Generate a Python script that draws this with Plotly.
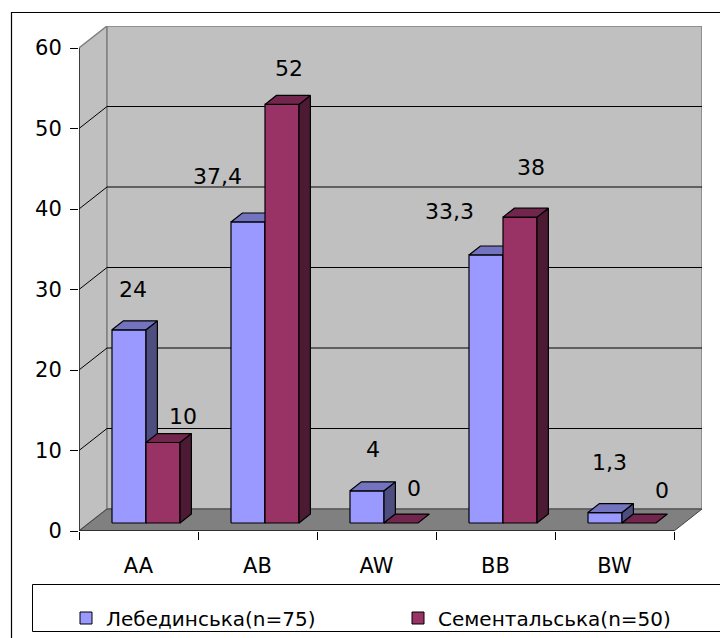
import plotly.graph_objects as go

# ---- data ----
categories = ["AA", "AB", "AW", "BB", "BW"]
lebedynska = [24, 37.4, 4, 33.3, 1.3]
sementalska = [10, 52, 0, 38, 0]
series_names = ["Лебединська(n=75)", "Сементальська(n=50)"]
y_ticks = [0, 10, 20, 30, 40, 50, 60]

# pixel nudges (dx, dy) for each value label
blue_label_shift = [(4, 40), (-31, 45), (6, 41), (-37, 43), (4, 50)]
red_label_shift = [(20, 26), (7, 36), (13, 35), (11, 50), (23, 33)]

# ---- 3D-look geometry (data units) ----
DX, DY = 0.2353, 2.733          # full depth of the floor
F0, F1 = 0.363, 0.77            # depth of bar front / back faces
W = 0.2857                      # bar width
BLUE_LEFT = -0.2227             # front-face left edge relative to category
YMAX = 60

FONT = "DejaVu Sans"
BLUE = ("#9999FF", "#7373BF", "#4D4D80")   # front, top, side
RED = ("#993366", "#73264D", "#4D1A33")


def shade_poly(xs, ys, color):
    return go.Scatter(
        x=xs + [xs[0]], y=ys + [ys[0]], mode="lines", fill="toself",
        fillcolor=color, line=dict(color="black", width=1.2),
        hoverinfo="skip", showlegend=False)


def bar_traces(xl, v, colors):
    front, top, side = colors
    b = F0 * DY
    ddx, ddy = (F1 - F0) * DX, (F1 - F0) * DY
    xr = xl + W
    out = []
    if v > 0:
        out.append(shade_poly([xl, xr, xr, xl], [b, b, b + v, b + v], front))
        out.append(shade_poly([xr, xr + ddx, xr + ddx, xr],
                              [b, b + ddy, b + v + ddy, b + v], side))
    out.append(shade_poly([xl, xr, xr + ddx, xl + ddx],
                          [b + v, b + v, b + v + ddy, b + v + ddy], top))
    return out


def fmt(v):
    return (f"{v:g}").replace(".", ",")


fig = go.Figure()
annotations = []
for i, cat in enumerate(categories):
    for k, (vals, cols, shifts) in enumerate(
            [(lebedynska, BLUE, blue_label_shift),
             (sementalska, RED, red_label_shift)]):
        v = vals[i]
        xl = i + BLUE_LEFT + k * W
        for tr in bar_traces(xl, v, cols):
            fig.add_trace(tr)
        sx, sy = shifts[i]
        annotations.append(dict(
            x=xl + W / 2, y=F0 * DY + v, xref="x", yref="y",
            text=fmt(v), showarrow=False, xshift=sx, yshift=sy,
            font=dict(family=FONT, size=22, color="black")))

# legend entries
for name, cols in zip(series_names, [BLUE, RED]):
    fig.add_trace(go.Scatter(
        x=[None], y=[None], mode="markers", name=name,
        marker=dict(symbol="square", size=12, color=cols[0],
                    line=dict(color="black", width=1))))

# ---- walls, floor and gridlines ----
x0 = -0.5
x1 = len(categories) - 0.5
shapes = []
wall_line = dict(color="#808080", width=1.5)
# side wall
shapes.append(dict(type="path", layer="below", xref="x", yref="y",
                   path=f"M{x0},0 L{x0+DX},{DY} L{x0+DX},{YMAX+DY} L{x0},{YMAX} Z",
                   fillcolor="#C0C0C0", line=wall_line))
# back wall
shapes.append(dict(type="rect", layer="below", xref="x", yref="y",
                   x0=x0 + DX, x1=x1 + DX, y0=DY, y1=YMAX + DY,
                   fillcolor="#C0C0C0", line=wall_line))
# floor
shapes.append(dict(type="path", layer="below", xref="x", yref="y",
                   path=f"M{x0},0 L{x0+DX},{DY} L{x1+DX},{DY} L{x1},0 Z",
                   fillcolor="#808080", line=dict(color="#404040", width=1)))
for t in y_ticks[1:-1]:
    shapes.append(dict(type="line", layer="below", xref="x", yref="y",
                       x0=x0 + DX, x1=x1 + DX, y0=t + DY, y1=t + DY,
                       line=dict(color="black", width=1)))
    shapes.append(dict(type="line", layer="below", xref="x", yref="y",
                       x0=x0, x1=x0 + DX, y0=t, y1=t + DY,
                       line=dict(color="black", width=1)))
# front axes
shapes.append(dict(type="line", xref="x", yref="y", x0=x0, x1=x0,
                   y0=0, y1=YMAX, line=dict(color="#202020", width=1.5)))
shapes.append(dict(type="line", xref="x", yref="y", x0=x0, x1=x1,
                   y0=0, y1=0, line=dict(color="#202020", width=1.5)))

# outer chart border and legend box (paper coords)
PL, PR, PT, PB = 79, 702, 26, 531


def px(xp):
    return (xp - PL) / (PR - PL)


def py(yp):
    return (PB - yp) / (PB - PT)


shapes.append(dict(type="rect", xref="paper", yref="paper",
                   x0=px(11.5), x1=px(730), y0=py(650), y1=py(12.5),
                   line=dict(color="black", width=1.2), fillcolor="rgba(0,0,0,0)"))
shapes.append(dict(type="rect", xref="paper", yref="paper",
                   x0=px(32.5), x1=px(730), y0=py(631.5), y1=py(584.5),
                   line=dict(color="black", width=1), fillcolor="rgba(0,0,0,0)"))

fig.update_layout(
    width=720, height=638,
    margin=dict(l=PL, r=720 - PR, t=PT, b=638 - PB, autoexpand=False),
    paper_bgcolor="white", plot_bgcolor="white",
    shapes=shapes, annotations=annotations,
    showlegend=True,
    legend=dict(orientation="h", x=px(66), xanchor="left",
                y=py(618), yanchor="middle",
                font=dict(family=FONT, size=20, color="black"),
                bgcolor="rgba(0,0,0,0)", borderwidth=0,
                entrywidth=287, entrywidthmode="pixels"),
    xaxis=dict(range=[x0, x1 + DX], tickmode="array",
               tickvals=list(range(len(categories))), ticktext=categories,
               ticks="", showgrid=False, zeroline=False, showline=False,
               ticklabelstandoff=20, automargin=False,
               tickfont=dict(family=FONT, size=21, color="black"),
               minor=dict(tickmode="array",
                          tickvals=[x0 + j for j in range(len(categories) + 1)],
                          ticks="outside", ticklen=8, tickwidth=1,
                          tickcolor="black", showgrid=False),
               fixedrange=True),
    yaxis=dict(range=[0, YMAX + DY], tickmode="array", tickvals=y_ticks,
               ticks="outside", ticklen=8, tickwidth=1, tickcolor="black",
               showgrid=False, zeroline=False, showline=False,
               ticklabelstandoff=4, automargin=False,
               tickfont=dict(family=FONT, size=21, color="black"),
               fixedrange=True),
)

fig.write_html("out.html")
